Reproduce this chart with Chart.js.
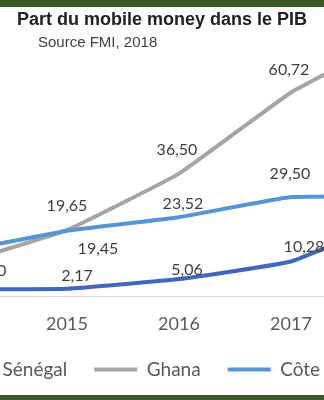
<!DOCTYPE html>
<html><head><meta charset="utf-8">
<script src="https://cdn.jsdelivr.net/npm/chart.js@4"></script>
<style>
html,body{margin:0;padding:0;background:#fff;}
body{width:324px;height:400px;overflow:hidden;position:relative;}
#wrap{position:absolute;left:-88px;top:0;width:500px;height:400px;}
.band{position:absolute;left:0;width:324px;background:#3a5a25;z-index:2;}
</style></head><body>
<div id="wrap"><canvas id="c" width="500" height="400"></canvas></div>
<div class="band" style="top:0;height:7px"></div>
<div class="band" style="top:395px;height:5px"></div>
<script>
// ---- data ----
const years = [2014, 2015, 2016, 2017, 2018];
const seriesNames = ['Sénégal', 'Ghana', "Côte d'Ivoire"];
const senegal = [2.00, 2.17, 5.06, 10.28, 24.20];
const ghana = [9.30, 19.65, 36.50, 60.72, 78.20];
const coteIvoire = [13.00, 19.45, 23.52, 29.50, 29.80];
const titleText = 'Part du mobile money dans le PIB';
const sourceText = 'Source FMI, 2018';

// label placement (offset of label centre from its point, px)
const labelOffsets = [
  [[10,-13],[10,-13],[8,-9],[13,-15],[13,-15]],
  [[0,-24],[0,-24],[-2,-24],[-2,-23],[0,-24]],
  [[31,18],[31,18],[4,-13],[-1,-23],[0,-23]]
];

const fmt = v => v.toFixed(2).replace('.', ',');
const toPts = arr => years.map((y, i) => ({x: y, y: arr[i]}));

const labelPlugin = {
  id: 'valueLabels',
  afterDatasetsDraw(chart) {
    const ctx = chart.ctx;
    ctx.save();
    ctx.font = '16px Lato';
    ctx.fillStyle = '#404040';
    ctx.textAlign = 'center';
    ctx.textBaseline = 'middle';
    chart.data.datasets.forEach((ds, di) => {
      const meta = chart.getDatasetMeta(di);
      meta.data.forEach((pt, i) => {
        const o = labelOffsets[di][i];
        ctx.fillText(fmt(ds.data[i].y), pt.x + o[0], pt.y + o[1]);
      });
    });
    ctx.restore();
  }
};

const sourcePlugin = {
  id: 'sourceText',
  afterLayout(chart) {
    // nudge the (cropped) legend row to where the original sits
    chart.legend.left += 6;
    chart.legend.right += 6;
  },
  afterDraw(chart) {
    const ctx = chart.ctx;
    ctx.save();
    ctx.font = '15px "Liberation Sans"';
    ctx.fillStyle = '#404040';
    ctx.textAlign = 'left';
    ctx.textBaseline = 'alphabetic';
    ctx.fillText(sourceText, 126, 47);
    ctx.restore();
  }
};

const chart = new Chart(document.getElementById('c'), {
  type: 'line',
  data: {
    datasets: [
      {label: seriesNames[0], data: toPts(senegal), borderColor: '#3f67bb', backgroundColor: '#3f67bb', order: 2},
      {label: seriesNames[1], data: toPts(ghana), borderColor: '#a5a5a5', backgroundColor: '#a5a5a5', order: 1},
      {label: seriesNames[2], data: toPts(coteIvoire), borderColor: '#5695d3', backgroundColor: '#5695d3', order: 0}
    ]
  },
  options: {
    responsive: false,
    devicePixelRatio: 1,
    animation: false,
    layout: {padding: {left: 0, right: 0, top: 0, bottom: 11}},
    elements: {
      line: {borderWidth: 4, tension: 0.1, fill: false, borderCapStyle: 'round', borderJoinStyle: 'round'},
      point: {radius: 0, hoverRadius: 0}
    },
    scales: {
      x: {
        type: 'linear',
        min: 2013.6161,
        max: 2018.0804,
        afterBuildTicks: s => { s.ticks = years.map(v => ({value: v})); },
        afterFit: s => { s.height = 37; s.paddingLeft = 0; s.paddingRight = 0; },
        grid: {display: false, drawTicks: false},
        border: {display: true, color: '#d9d9d9', width: 1},
        ticks: {
          padding: 17,
          color: '#595959',
          font: {family: 'Lato', size: 18},
          callback: v => String(v),
          maxRotation: 0,
          autoSkip: false
        }
      },
      y: {
        display: false,
        min: 0,
        max: 73.5
      }
    },
    plugins: {
      title: {
        display: true,
        text: titleText,
        color: '#222222',
        font: {family: 'Liberation Sans', size: 18, weight: 'bold'},
        padding: {top: 9, bottom: 19}
      },
      legend: {
        position: 'bottom',
        labels: {
          boxWidth: 43,
          boxHeight: 4,
          padding: 27,
          color: '#595959',
          font: {family: 'Lato', size: 19},
          generateLabels: c => c.data.datasets.map((ds, i) => ({
            text: ds.label,
            fillStyle: ds.borderColor,
            strokeStyle: ds.borderColor,
            lineWidth: 0,
            hidden: false,
            datasetIndex: i,
            fontColor: '#595959'
          }))
        }
      },
      tooltip: {enabled: false}
    }
  },
  plugins: [labelPlugin, sourcePlugin]
});
</script>
</body></html>
